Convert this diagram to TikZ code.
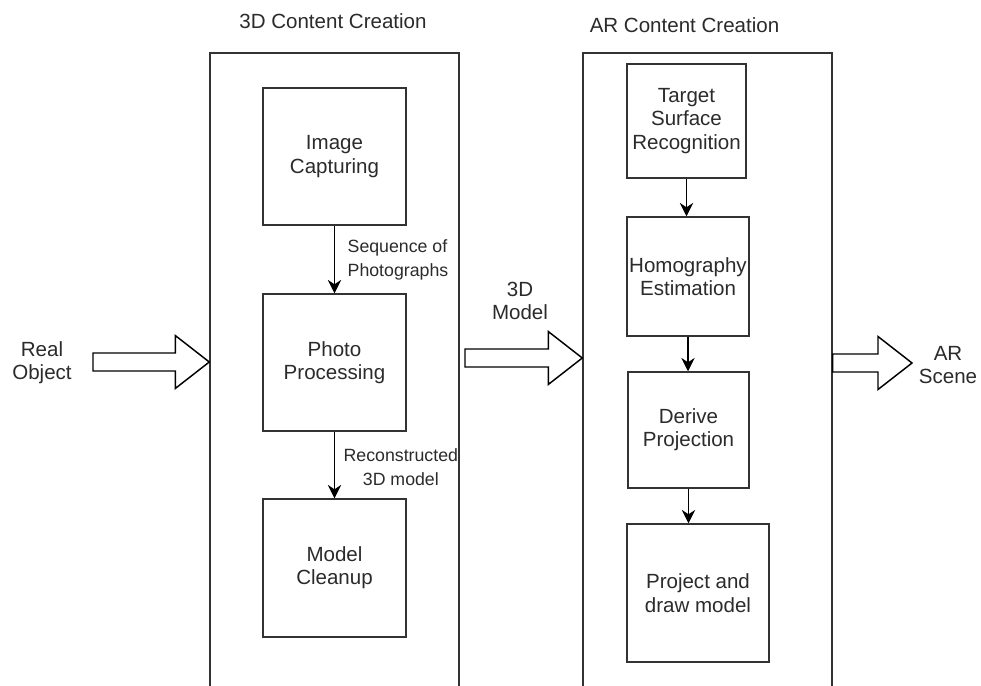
\documentclass[tikz,border=0pt]{standalone}
\usepackage{fontspec}
\setmainfont{Liberation Sans}
\usetikzlibrary{arrows.meta,positioning,calc}
\definecolor{ink}{HTML}{2B2B2B}
\definecolor{frame}{HTML}{333333}
\tikzset{
  >={Stealth[length=10pt,width=10pt]},
  panel/.style={draw=frame, line width=1.1pt, minimum width=186.75pt, minimum height=500.25pt, inner sep=0pt},
  stage/.style={draw=frame, line width=1.1pt, align=center, inner sep=0pt, text=ink,
    font=\fontsize{15.4}{17.5}\selectfont},
  heading/.style={text=ink, font=\fontsize{15.4}{17.5}\selectfont},
  side/.style={align=center, text=ink, font=\fontsize{15.4}{17.5}\selectfont},
  flowlabel/.style={text=ink, font=\fontsize{13.3}{18}\selectfont},
  flow/.style={->, line width=1.1pt},
  fat/.style={draw=black, line width=1.1pt, fill=white, line join=miter},
}
% hollow block arrow, tail coordinate #1 level with tip #2
\newcommand{\fatarrow}[2]{%
  \draw[fat] ($(#1)+(0,-9)$) -- ($(#2)+(-34,-9)$) -- ($(#2)+(-34,-26.5)$)
    -- (#2) -- ($(#2)+(-34,26.5)$) -- ($(#2)+(-34,9)$) -- ($(#1)+(0,9)$) -- cycle;}

\begin{document}
\begin{tikzpicture}[x=0.75pt,y=-0.75pt]
  \useasboundingbox (0,0) rectangle (981,685);
  \fill[white] (0,0) rectangle (981,685);
  \clip (0,0) rectangle (981,685);

  % LEFT panel
  \node[panel] (threed) at (334.5,386.5) {};
  \node[heading] (threedtitle) at (333,21) {3D Content Creation};

  \node[stage, minimum width=107.25pt, minimum height=102.75pt] (capture) at (334.5,156.5) {Image\\Capturing};
  \node[stage, minimum width=107.25pt, minimum height=102.75pt] (photo) at (334.5,362.5) {Photo\\Processing};
  \node[stage, minimum width=107.25pt, minimum height=103.5pt] (cleanup) at (334.5,568) {Model\\Cleanup};

  \draw[flow] (capture) -- (photo)
    node[flowlabel, midway, anchor=west, align=left, xshift=6pt] (seqlabel) {Sequence of\\Photographs};
  \draw[flow] (photo) -- (cleanup)
    node[flowlabel, midway, anchor=west, align=center, xshift=3pt, yshift=-1.5pt] (reclabel) {Reconstructed\\3D model};

  % RIGHT panel
  \node[panel] (arpanel) at (707.5,386.5) {};
  \node[heading] (artitle) at (684.5,25) {AR Content Creation};

  \node[stage, minimum width=89.25pt, minimum height=85.5pt] (target) at (686.5,121) {Target\\Surface\\Recognition};
  \node[stage, minimum width=91.5pt, minimum height=89.25pt] (homog) at (688,276.5) {Homography\\Estimation};
  \node[stage, minimum width=90.75pt, minimum height=87pt] (derive) at (688.5,430) {Derive\\Projection};
  \node[stage, minimum width=106.5pt, minimum height=103.5pt] (project) at (698,593) {Project and\\draw model};

  \draw[flow] (target.south) -- (target.south |- homog.north);
  \draw[flow] (homog.south) -- (homog.south |- derive.north);
  \draw[flow] (derive.south) -- (derive.south |- project.north);

  % block arrows
  \node[side] (realobj) at (42,363) {Real\\Object};
  \coordinate (realtail) at (93,362);
  \coordinate (realtip) at (threed.west |- realtail);
  \fatarrow{realtail}{realtip}

  \node[side] (modellabel) at (520,301) {3D\\Model};
  \coordinate (modeltail) at (465,358);
  \coordinate (modeltip) at (arpanel.west |- modeltail);
  \fatarrow{modeltail}{modeltip}

  \node[side] (scene) at (948,365) {AR\\Scene};
  \coordinate (scenetip) at (912,363);
  \coordinate (scenetail) at (arpanel.east |- scenetip);
  \fatarrow{scenetail}{scenetip}
\end{tikzpicture}
\end{document}
